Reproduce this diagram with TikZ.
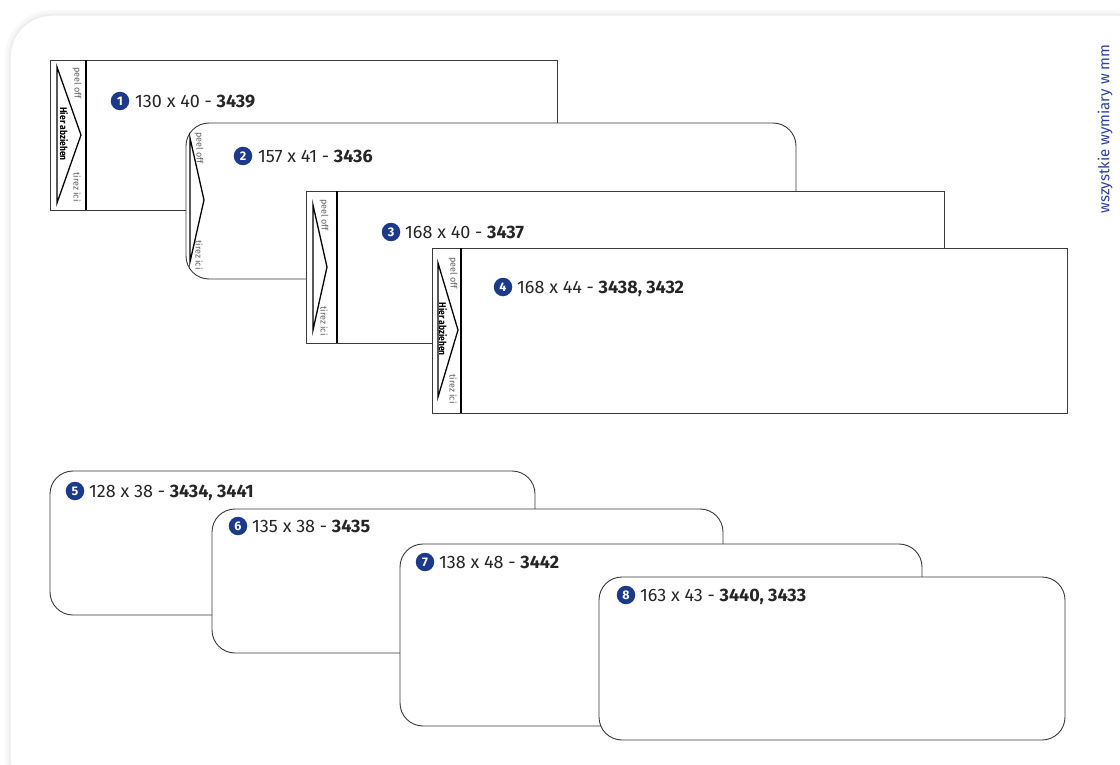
\documentclass[tikz,border=0pt]{standalone}
\usepackage{fontspec}
\setmainfont{Fira Sans}
\definecolor{navy}{HTML}{1B3A8C}
\definecolor{sideblue}{HTML}{2B429B}
\definecolor{outl}{HTML}{3A3A3A}
\begin{document}
\begin{tikzpicture}[x=1pt,y=-1pt,
 env/.style={draw=outl,line width=0.9pt,fill=white},
 renv/.style={env,rounded corners=23pt},
 flapline/.style={draw=black,line width=1.1pt},
 tri/.style={draw=black,line width=1.3pt,line join=miter},
 tiny/.style={font=\fontsize{9}{10}\selectfont,text=gray!75!black,rotate=-90,inner sep=0},
 hier/.style={font=\bfseries\fontsize{8.5}{9}\selectfont,rotate=-90,inner sep=0,yscale=1.15},
 num/.style={circle,fill=navy,text=white,font=\bfseries\fontsize{12.5}{12.5}\selectfont,minimum size=18.5pt,inner sep=0},
 lbl/.style={anchor=base west,font=\fontsize{18}{20}\selectfont,text=black!85,inner sep=0},
]
\useasboundingbox (0,0) rectangle (1120,765);
\fill[white] (0,0) rectangle (1120,765);
% background card with soft shadow
\draw[gray!5,line width=10pt,rounded corners=42pt] (10,15) rectangle (1160,800);
\draw[gray!9,line width=5pt,rounded corners=42pt] (10,15) rectangle (1160,800);
\draw[gray!14,line width=1.5pt,rounded corners=42pt,fill=white] (10,15) rectangle (1160,800);

% envelope 1
\draw[env] (50,60) rectangle (557,210);
\draw[flapline] (86,60) -- (86,210);
\draw[tri] (57,67) -- (81,135) -- (57,203) -- cycle;
\node[tiny] (p1) at (77,83) {peel off};
\node[tiny] (t1) at (77,187) {tirez ici};
\node[hier] (h1) at (64,134) {Hier abziehen};
\node[num] (n1) at (120,101) {1};
\node[lbl] (l1) at (135,107.5) {130 x 40 - \textbf{3439}};

% envelope 2
\draw[renv] (186,123) rectangle (796,279);
\draw[tri] (190,138) -- (204,200) -- (190,262) -- cycle;
\node[tiny] (p2) at (199,148) {peel off};
\node[tiny] (t2) at (199,255) {tirez ici};
\node[num] (n2) at (243,156) {2};
\node[lbl] (l2) at (258,162.5) {157 x 41 - \textbf{3436}};

% envelope 3
\draw[env] (306,191) rectangle (944,343);
\draw[flapline] (337,191) -- (337,343);
\draw[tri] (313,205) -- (327,267) -- (313,330) -- cycle;
\node[tiny] (p3) at (324,215) {peel off};
\node[tiny] (t3) at (324,321) {tirez ici};
\node[num] (n3) at (391,232) {3};
\node[lbl] (l3) at (405,238.5) {168 x 40 - \textbf{3437}};

% envelope 4
\draw[env] (432,248) rectangle (1067,413);
\draw[flapline] (461,248) -- (461,413);
\draw[tri] (438,263) -- (458,330) -- (438,397) -- cycle;
\node[tiny] (p4) at (453,273) {peel off};
\node[tiny] (t4) at (453,389) {tirez ici};
\node[hier] (h4) at (443,329) {Hier abziehen};
\node[num] (n4) at (503,287) {4};
\node[lbl] (l4) at (517,293.5) {168 x 44 - \textbf{3438, 3432}};

% bottom envelopes
\draw[renv] (50,471) rectangle (535,615);
\node[num] (n5) at (75,491) {5};
\node[lbl] (l5) at (89,497.5) {128 x 38 - \textbf{3434, 3441}};

\draw[renv] (212,509) rectangle (723,653);
\node[num] (n6) at (238,526) {6};
\node[lbl] (l6) at (252,532.5) {135 x 38 - \textbf{3435}};

\draw[renv] (400,544) rectangle (922,726);
\node[num] (n7) at (425,562) {7};
\node[lbl] (l7) at (439,568.5) {138 x 48 - \textbf{3442}};

\draw[renv] (599,577) rectangle (1065,740);
\node[num] (n8) at (626,595) {8};
\node[lbl] (l8) at (640,601.5) {163 x 43 - \textbf{3440, 3433}};

% side note
\node[rotate=90,text=sideblue,font=\fontsize{15}{16}\selectfont,inner sep=0] (side) at (1105,129) {wszystkie wymiary w mm};
\end{tikzpicture}
\end{document}
